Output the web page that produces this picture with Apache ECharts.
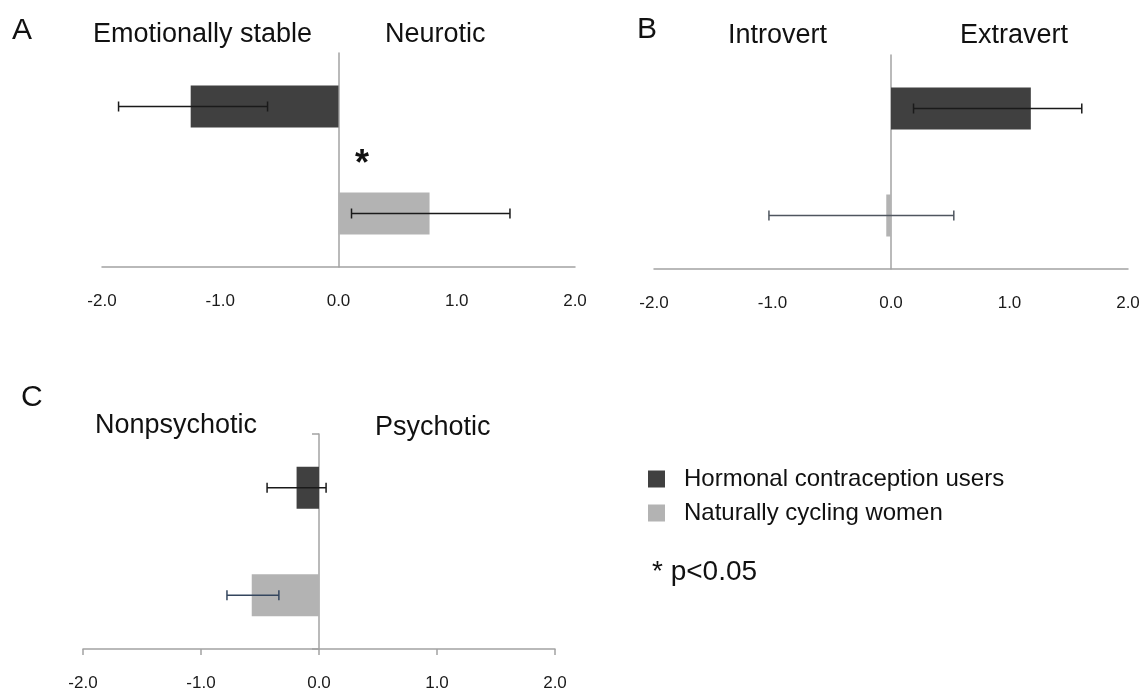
<!DOCTYPE html>
<html>
<head>
<meta charset="utf-8">
<script src="https://cdn.jsdelivr.net/npm/echarts@6/dist/echarts.min.js"></script>
<style>
    html, body { margin: 0; padding: 0; background: #fff; }
    #chart { width: 1145px; height: 699px; }
</style>
</head>
<body>
<div id="chart"></div>
<script>
// groups (rows, top to bottom)
const groups = ['Hormonal contraception users', 'Naturally cycling women'];
const tickLabels = ['-2.0', '-1.0', '0.0', '1.0', '2.0'];

// panel A: neuroticism
const neuroMean = [-1.25, 0.77];
const neuroLow = [-1.86, 0.11];
const neuroHigh = [-0.60, 1.45];

// panel B: extraversion
const extraMean = [1.18, -0.04];
const extraLow = [0.19, -1.03];
const extraHigh = [1.61, 0.53];

// panel C: psychoticism
const psychMean = [-0.19, -0.57];
const psychLow = [-0.44, -0.78];
const psychHigh = [0.06, -0.34];

const barColors = ['#404040', '#b3b3b3'];
const axisColor = '#a3a3a3';
const font = '"Liberation Sans", Arial, sans-serif';

const panels = [
    { mean: neuroMean, low: neuroLow, high: neuroHigh, grid: { left: 102, top: 53, width: 473, height: 214 }, ticks: false, errColors: ['#1a1a1a', '#1a1a1a'] },
    { mean: extraMean, low: extraLow, high: extraHigh, grid: { left: 654, top: 55, width: 474, height: 214 }, ticks: false, errColors: ['#1a1a1a', '#4f565f'] },
    { mean: psychMean, low: psychLow, high: psychHigh, grid: { left: 83, top: 434, width: 472, height: 215 }, ticks: true, errColors: ['#1a1a1a', '#34465e'] }
];

function renderErr(params, api) {
    const row = api.value(0);
    const lo = api.coord([api.value(1), row]);
    const hi = api.coord([api.value(2), row]);
    const style = { stroke: api.visual('color'), lineWidth: 1.5 };
    const h = 5;
    return {
        type: 'group',
        children: [
            { type: 'line', shape: { x1: lo[0], y1: lo[1], x2: hi[0], y2: hi[1] }, style: style },
            { type: 'line', shape: { x1: lo[0], y1: lo[1] - h, x2: lo[0], y2: lo[1] + h }, style: style },
            { type: 'line', shape: { x1: hi[0], y1: hi[1] - h, x2: hi[0], y2: hi[1] + h }, style: style }
        ]
    };
}

const grid = [];
const xAxis = [];
const yAxis = [];
const series = [];

panels.forEach((p, i) => {
    grid.push(p.grid);
    xAxis.push({
        gridIndex: i,
        type: 'value',
        min: -2,
        max: 2,
        interval: 1,
        splitLine: { show: false },
        axisLine: { show: true, lineStyle: { color: axisColor, width: 1.5 } },
        axisTick: { show: p.ticks, length: 6, lineStyle: { color: axisColor, width: 1.5 } },
        axisLabel: {
            margin: 26,
            color: '#1a1a1a',
            fontFamily: font,
            fontSize: 17,
            formatter: v => tickLabels[Math.round(v) + 2]
        }
    });
    yAxis.push({
        gridIndex: i,
        type: 'category',
        data: groups,
        inverse: true,
        axisLine: { show: true, lineStyle: { color: axisColor, width: 1.5 } },
        axisTick: { show: p.ticks, length: 7, interval: idx => idx === 0, lineStyle: { color: axisColor, width: 1.5 } },
        axisLabel: { show: false },
        splitLine: { show: false }
    });
    groups.forEach((g, k) => {
        series.push({
            name: g,
            type: 'bar',
            xAxisIndex: i,
            yAxisIndex: i,
            stack: 'p' + i,
            barWidth: 42,
            itemStyle: { color: barColors[k] },
            data: p.mean.map((v, j) => (j === k ? v : '-'))
        });
    });
    series.push({
        name: 'err' + i,
        type: 'custom',
        xAxisIndex: i,
        yAxisIndex: i,
        renderItem: renderErr,
        encode: { x: [1, 2], y: 0 },
        z: 10,
        data: p.low.map((lo, j) => ({ value: [j, lo, p.high[j]], itemStyle: { color: p.errColors[j] } }))
    });
});

// y is the visual centre of the text line
function txt(text, left, y, size, weight) {
    return {
        type: 'text',
        left: left,
        top: y - size * 0.42,
        style: { text: text, font: (weight || 'normal') + ' ' + size + 'px ' + font, fill: '#111' }
    };
}

const option = {
    animation: false,
    backgroundColor: '#fff',
    grid: grid,
    xAxis: xAxis,
    yAxis: yAxis,
    series: series,
    legend: {
        data: groups.map(g => ({ name: g, icon: 'rect' })),
        orient: 'vertical',
        left: 648,
        top: 467,
        padding: 0,
        itemWidth: 17,
        itemHeight: 17,
        itemGap: 10,
        textStyle: { fontFamily: font, fontSize: 24, color: '#111', padding: [0, 0, 0, 14] }
    },
    graphic: [
        txt('A', 12, 28, 30),
        txt('Emotionally stable', 93, 32, 27),
        txt('Neurotic', 385, 32, 27),
        txt('B', 637, 27, 30),
        txt('Introvert', 728, 33, 27),
        txt('Extravert', 960, 33, 27),
        txt('C', 21, 395, 30),
        txt('Nonpsychotic', 95, 423, 27),
        txt('Psychotic', 375, 425, 27),
        { type: 'text', left: 355, top: 147, style: { text: '*', font: 'bold 36px ' + font, fill: '#111' } },
        txt('* p<0.05', 652, 570, 28)
    ]
};

const chart = echarts.init(document.getElementById('chart'));
chart.setOption(option);
</script>
</body>
</html>
